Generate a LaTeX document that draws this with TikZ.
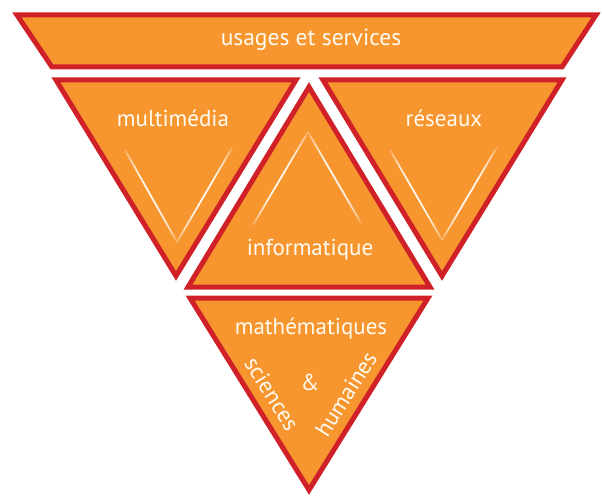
\documentclass[tikz,border=0pt]{standalone}
\usepackage{fontspec}
\setmainfont{PT Sans}
\usetikzlibrary{calc}
\definecolor{fillor}{RGB}{247,150,47}
\definecolor{redb}{RGB}{208,33,40}
\definecolor{txt}{RGB}{255,250,240}
\tikzset{
  piece/.style={fill=fillor, draw=redb, line width=5pt, line join=miter},
  lbl/.style={text=txt, font=\fontsize{23}{26}\selectfont, inner sep=0pt},
}
\newcommand{\fadeline}[2]{%
  \foreach \i in {0,...,23}{%
    \pgfmathsetmacro\op{sqrt(sin(180*(\i+0.5)/24))}%
    \draw[txt, line width=1.8pt, opacity=\op] ($#1!\i/24!#2$) -- ($#1!{(\i+1)/24}!#2$);
  }%
}
\begin{document}
\begin{tikzpicture}[x=1pt,y=-1pt]
\useasboundingbox (0,0) rectangle (602,497);
% shapes
\draw[piece] (17,15) -- (596,15) -- (562,67) -- (52,67) -- cycle;
\draw[piece] (56,80) -- (296,80) -- (176,276) -- cycle;
\draw[piece] (309,87) -- (430,287) -- (188,287) -- cycle;
\draw[piece] (323,80) -- (562,80) -- (442,276) -- cycle;
\draw[piece] (190,298) -- (428,298) -- (309,490) -- cycle;
% decorative lines
\fadeline{(125,150)}{(177,242)}
\fadeline{(177,242)}{(232,148)}
\fadeline{(253,225)}{(308,132)}
\fadeline{(308,132)}{(361,223)}
\fadeline{(390,150)}{(442,240)}
\fadeline{(442,240)}{(497,147)}
% labels
\node[lbl, font=\fontsize{23.5}{26}\selectfont] (us) at (311,40) {usages et services};
\node[lbl] (mm) at (173,118) {multimédia};
\node[lbl] (re) at (444,118) {réseaux};
\node[lbl] (inf) at (310,250) {informatique};
\node[lbl] (ma) at (311,329) {mathématiques};
\node[lbl, rotate=-58] (sc) at (272,394) {sciences};
\node[lbl] (et) at (310,382) {\&};
\node[lbl, rotate=58] (hu) at (346,394) {humaines};
\end{tikzpicture}
\end{document}
